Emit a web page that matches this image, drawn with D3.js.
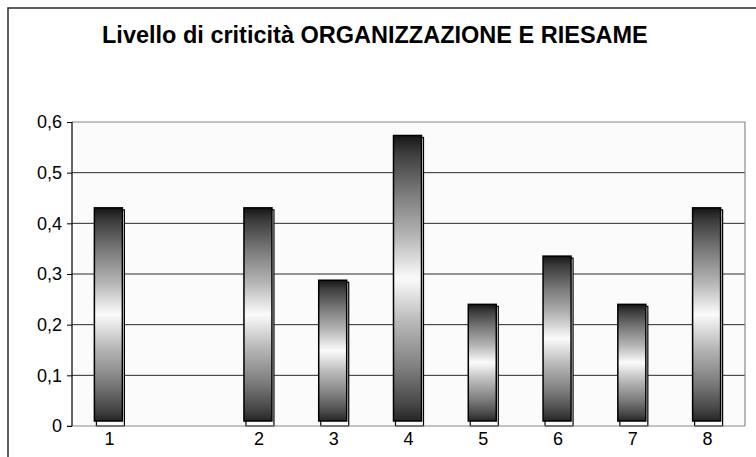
<!DOCTYPE html>
<html>
<head>
<meta charset="utf-8">
<script src="https://cdn.jsdelivr.net/npm/d3@7"></script>
<style>
  html, body { margin: 0; padding: 0; background: #fff; }
  svg { display: block; }
  text { font-family: "Liberation Sans", Arial, sans-serif; }
</style>
</head>
<body>
<svg id="chart" width="756" height="457"></svg>
<script>
const title = "Livello di criticità ORGANIZZAZIONE E RIESAME";
const categories = ["1", "", "2", "3", "4", "5", "6", "7", "8"];
const values = [0.4286, null, 0.4286, 0.2857, 0.5714, 0.2381, 0.3333, 0.2381, 0.4286];
const yTicks = [0, 0.1, 0.2, 0.3, 0.4, 0.5, 0.6];
const yTickLabels = ["0", "0,1", "0,2", "0,3", "0,4", "0,5", "0,6"];

const svg = d3.select("#chart");
const plot = { left: 72, right: 745, top: 122, bottom: 426 };
const FONT = '"Liberation Sans", Arial, sans-serif';

// outer frame (extends beyond the picture on right/bottom)
svg.append("rect")
  .attr("x", 8).attr("y", 8).attr("width", 900).attr("height", 900)
  .attr("fill", "#fff").attr("stroke", "#2a2a2a").attr("stroke-width", 1.5);

// title
svg.append("text")
  .attr("x", 102).attr("y", 43)
  .attr("font-size", 23.5).attr("font-weight", "bold").attr("fill", "#000")
  .text(title);

const x = d3.scaleBand().domain(categories).range([plot.left, plot.right]).paddingInner(0).paddingOuter(0);
const y = d3.scaleLinear().domain([0, 0.6]).range([plot.bottom, plot.top]);

// plot background
svg.append("rect")
  .attr("x", plot.left).attr("y", plot.top)
  .attr("width", plot.right - plot.left).attr("height", plot.bottom - plot.top)
  .attr("fill", "#fbfbfb");

// gridlines
svg.append("g").selectAll("line")
  .data(yTicks.filter(v => v > 0 && v < 0.6))
  .join("line")
  .attr("x1", plot.left).attr("x2", plot.right)
  .attr("y1", d => y(d)).attr("y2", d => y(d))
  .attr("stroke", "#2a2a2a").attr("stroke-width", 1);

// plot border top & right
svg.append("path")
  .attr("d", `M${plot.left},${plot.top}H${plot.right}V${plot.bottom}`)
  .attr("fill", "none").attr("stroke", "#8a8a8a").attr("stroke-width", 1.2);

// gradient
const defs = svg.append("defs");
const grad = defs.append("linearGradient").attr("id", "barGrad")
  .attr("x1", 0).attr("y1", 0).attr("x2", 0).attr("y2", 1);
[[0, "#161616"], [0.06, "#3c3c3c"], [0.2, "#7a7a7a"], [0.35, "#b4b4b4"],
 [0.5, "#fbfbfb"], [0.65, "#bababa"], [0.82, "#7c7c7c"], [0.94, "#474747"], [1, "#262626"]]
  .forEach(([o, c]) => grad.append("stop").attr("offset", o).attr("stop-color", c));

const barW = 30;
const data = categories.map((c, i) => ({ c, v: values[i] })).filter(d => d.v != null);
const bars = svg.append("g");
// outline (offset) rect
bars.selectAll("rect.outline").data(data).join("rect")
  .attr("class", "outline")
  .attr("x", d => x(d.c) + (x.bandwidth() - barW) / 2 + 2)
  .attr("y", d => y(d.v) + 1)
  .attr("width", barW - 2)
  .attr("height", d => y(0) - y(d.v) - 1)
  .attr("fill", "#fbfbfb").attr("stroke", "#000").attr("stroke-width", 1.2);
// filled gradient rect
bars.selectAll("rect.fill").data(data).join("rect")
  .attr("class", "fill")
  .attr("x", d => x(d.c) + (x.bandwidth() - barW) / 2)
  .attr("y", d => y(d.v) - 1)
  .attr("width", barW - 2)
  .attr("height", d => y(0) - y(d.v) - 4)
  .attr("fill", "url(#barGrad)").attr("stroke", "#000").attr("stroke-width", 1.5);

// x axis
const xAxis = svg.append("g").attr("transform", `translate(0,${plot.bottom})`)
  .call(d3.axisBottom(x).tickSize(0).tickPadding(6));
xAxis.select(".domain").remove();
xAxis.selectAll("text").attr("font-size", 18).attr("fill", "#000").style("font-family", FONT);
svg.append("line")
  .attr("x1", plot.left - 5).attr("x2", plot.right)
  .attr("y1", plot.bottom).attr("y2", plot.bottom)
  .attr("stroke", "#8a8a8a").attr("stroke-width", 1.2);

// y axis
const yAxis = svg.append("g").attr("transform", `translate(${plot.left},0)`)
  .call(d3.axisLeft(y).tickValues(yTicks).tickSize(5).tickPadding(5)
    .tickFormat((d, i) => yTickLabels[i]));
yAxis.select(".domain").attr("stroke", "#000").attr("stroke-width", 1.2)
  .attr("d", `M0,${plot.top}V${plot.bottom}`);
yAxis.selectAll(".tick line").attr("stroke", "#000");
yAxis.selectAll("text").attr("font-size", 18).attr("fill", "#000").style("font-family", FONT);
</script>
</body>
</html>
